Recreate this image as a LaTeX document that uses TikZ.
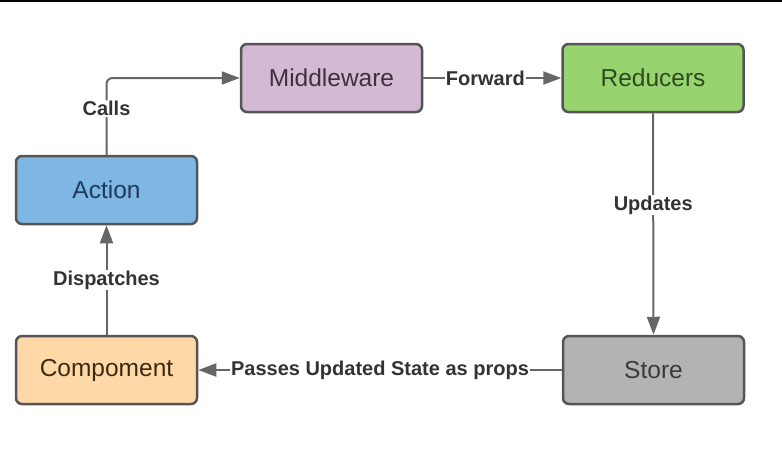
\documentclass[tikz,border=0pt]{standalone}
\usepackage{fontspec}
\setmainfont{Liberation Sans}
\usetikzlibrary{arrows.meta}
\usetikzlibrary{positioning}

\definecolor{boxline}{HTML}{555555}
\definecolor{linkgray}{HTML}{666666}
\definecolor{labeltext}{HTML}{333333}
\definecolor{midfill}{HTML}{D3B9D3}
\definecolor{midtext}{HTML}{3F3040}
\definecolor{redfill}{HTML}{97D46F}
\definecolor{redtext}{HTML}{2E4A1E}
\definecolor{actfill}{HTML}{7EB6E4}
\definecolor{acttext}{HTML}{1F3B5C}
\definecolor{compfill}{HTML}{FFD8A8}
\definecolor{comptext}{HTML}{3B2A12}
\definecolor{storefill}{HTML}{B3B3B3}
\definecolor{storetext}{HTML}{3A3A3A}

\begin{document}
\begin{tikzpicture}[x=1pt,y=-1pt,
    box/.style={draw=boxline, line width=2.5pt, rounded corners=6pt, minimum width=181pt, minimum height=68pt, font=\fontsize{24.5}{27}\selectfont},
    link/.style={draw=linkgray, line width=2pt, -{Triangle[length=18pt,width=13pt]}},
    tag/.style={fill=white, inner sep=1pt, text=labeltext, font=\bfseries\fontsize{20}{23}\selectfont}]
    \useasboundingbox (0,0) rectangle (782,461);
    \draw[line width=2pt] (0,1) -- (782,1);

    % boxes
    \node[box, fill=midfill, text=midtext] (middleware) at (331.5,78) {Middleware};
    \node[box, fill=redfill, text=redtext] (reducers) at (653,78) {Reducers};
    \node[box, fill=actfill, text=acttext] (action) at (106.5,190) {Action};
    \node[box, fill=compfill, text=comptext] (component) at (106.5,370) {Compoment};
    \node[box, fill=storefill, text=storetext] (store) at (653.5,370) {Store};

    % links
    \draw[link, rounded corners=6pt] (action.north) |- (middleware.west) node[pos=0.3, tag]{Calls};
    \draw[link] (middleware.east) -- (reducers.west) node[pos=0.45, tag]{Forward};
    \draw[link] (reducers.south) -- (store.north) node[pos=0.415, tag]{Updates};
    \draw[link] (component.north) -- (action.south) node[pos=0.5, tag]{Dispatches};
    \draw[link] (store.west) -- (component.east) node[pos=0.5, tag]{Passes Updated State as props};
\end{tikzpicture}
\end{document}
